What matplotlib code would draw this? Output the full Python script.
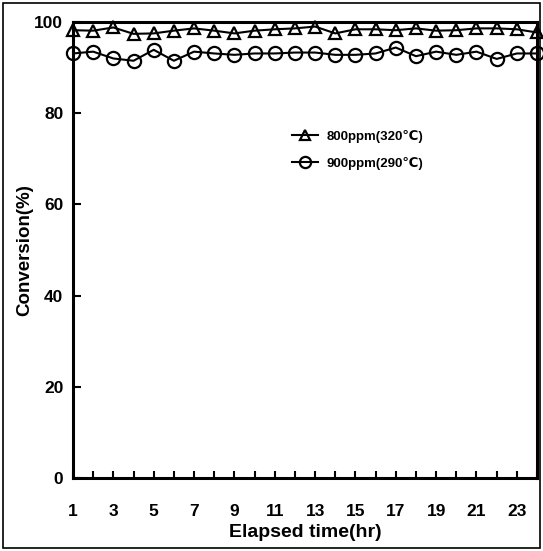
import matplotlib
matplotlib.use("Agg")
import matplotlib.pyplot as plt
from matplotlib.patches import Rectangle

plt.rcParams['font.family'] = ['Liberation Sans', 'DejaVu Sans']
plt.rcParams['font.weight'] = 'bold'

# Elapsed time (hr) and conversion (%) for the two runs
hours = list(range(1, 25))
conv_800ppm_320C = [98.2, 98.1, 98.8, 97.4, 97.5, 98.1, 98.6, 98.1, 97.5, 98.1, 98.4, 98.6,
                    99.0, 97.5, 98.4, 98.4, 98.2, 98.6, 98.1, 98.2, 98.6, 98.6, 98.4, 97.7]
conv_900ppm_290C = [93.1, 93.5, 92.0, 91.5, 93.9, 91.5, 93.5, 93.1, 92.8, 93.1, 93.1, 93.3,
                    93.3, 92.8, 92.8, 93.1, 94.4, 92.5, 93.5, 92.8, 93.5, 91.9, 93.1, 93.1]
series_labels = ["800ppm(320\u2103)", "900ppm(290\u2103)"]
x_tick_labels = [str(h) for h in range(1, 24, 2)]
y_ticks = [0, 20, 40, 60, 80, 100]

fig = plt.figure(figsize=(5.43, 5.51), dpi=100)
ax = fig.add_axes([73 / 543, 73 / 551, 464 / 543, 456 / 551])

ax.plot(hours, conv_800ppm_320C, color='black', lw=1.5, marker='^', markersize=8,
        fillstyle='none', markeredgewidth=1.6, label=series_labels[0], clip_on=False)
ax.plot(hours, conv_900ppm_290C, color='black', lw=1.5, marker='o', markersize=9.5,
        fillstyle='none', markeredgewidth=1.6, label=series_labels[1], clip_on=False)

ax.set_xlim(1, 24)
ax.set_ylim(0, 100)
ax.set_xticks(range(1, 25))
ax.set_xticklabels([str(h) if str(h) in x_tick_labels else '' for h in hours])
ax.set_yticks(y_ticks)
ax.set_yticklabels([str(v) for v in y_ticks])

ax.tick_params(axis='x', direction='in', length=5, width=1.5, pad=19, labelsize=12.5)
ax.tick_params(axis='y', direction='in', length=6, width=1.5, pad=7, labelsize=12.5)

for side in ['left', 'bottom', 'top', 'right']:
    ax.spines[side].set_linewidth(2.2)

ax.set_xlabel("Elapsed time(hr)", fontsize=14, fontweight='bold', labelpad=3)
ax.set_ylabel("Conversion(%)", fontsize=13.5, fontweight='bold', labelpad=1)

ax.legend(loc='upper left', bbox_to_anchor=(0.472, 0.763), frameon=False,
          prop={'size': 9.5, 'weight': 'bold'}, handlelength=2.0, handletextpad=0.6,
          labelspacing=1.05, borderpad=0, borderaxespad=0, markerscale=0.85)

# Outer frame around the whole figure
fig.patches.append(Rectangle((3 / 543, 3 / 551), 537 / 543, 545 / 551,
                             transform=fig.transFigure, fill=False,
                             edgecolor='black', linewidth=1.2))

fig.savefig("out.png", dpi=100)
